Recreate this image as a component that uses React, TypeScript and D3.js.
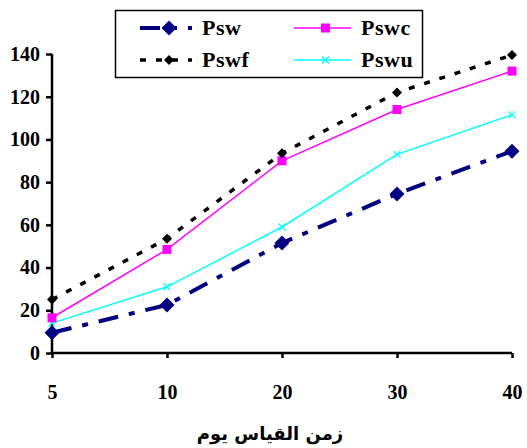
import { useRef, useEffect } from 'react'
import * as d3 from 'd3'

// measurement days (categorical, evenly spaced)
const days = ['5', '10', '20', '30', '40']
const psw = [9.5, 22.5, 51.5, 74.5, 94.5]
const pswc = [16.5, 48.5, 90, 114, 132]
const pswf = [25, 53.5, 93.5, 122, 139.5]
const pswu = [14, 31, 59, 93, 111.5]
const yTicks = [0, 20, 40, 60, 80, 100, 120, 140]
const xTitle = 'زمن القياس يوم'

type Marker = 'diamond' | 'smallDiamond' | 'square' | 'x'

interface Series {
  name: string
  values: number[]
  color: string
  width: number
  dash: string
  marker: Marker
}

const series: Series[] = [
  { name: 'Pswu', values: pswu, color: '#00FFFF', width: 1.5, dash: '', marker: 'x' },
  { name: 'Pswc', values: pswc, color: '#FF00FF', width: 1.5, dash: '', marker: 'square' },
  { name: 'Pswf', values: pswf, color: '#000000', width: 3.5, dash: '6,10', marker: 'smallDiamond' },
  { name: 'Psw', values: psw, color: '#000080', width: 4, dash: '20,11,6,11', marker: 'diamond' },
]

const legendOrder = ['Psw', 'Pswc', 'Pswf', 'Pswu']

const drawMarker = (
  g: d3.Selection<SVGGElement, unknown, null, undefined>,
  kind: Marker,
  x: number,
  y: number,
  color: string
) => {
  if (kind === 'diamond' || kind === 'smallDiamond') {
    const r = kind === 'diamond' ? 7.5 : 5
    g.append('path')
      .attr('d', `M${x},${y - r}L${x + r},${y}L${x},${y + r}L${x - r},${y}Z`)
      .attr('fill', color)
  } else if (kind === 'square') {
    g.append('rect')
      .attr('x', x - 4.5).attr('y', y - 4.5)
      .attr('width', 9).attr('height', 9)
      .attr('fill', color)
  } else {
    const r = 3.5
    g.append('path')
      .attr('d', `M${x - r},${y - r}L${x + r},${y + r}M${x - r},${y + r}L${x + r},${y - r}`)
      .attr('stroke', color)
      .attr('stroke-width', 1.3)
  }
}

const serif = "'Liberation Serif', 'Times New Roman', serif"

const App = () => {
  const ref = useRef<SVGSVGElement>(null)

  useEffect(() => {
    if (!ref.current) return
    const svg = d3.select(ref.current)
    svg.selectAll('*').remove()
    const width = 527
    const height = 448
    const left = 52
    const right = 512
    const top = 54
    const bottom = 353

    svg.attr('viewBox', `0 0 ${width} ${height}`)
    svg.append('rect').attr('width', width).attr('height', height).attr('fill', '#fff')

    const x = d3.scalePoint<string>().domain(days).range([left, right])
    const y = d3.scaleLinear().domain([0, 140]).range([bottom, top])

    // y axis
    const yAxis = svg.append('g')
      .attr('transform', `translate(${left},0)`)
      .call(d3.axisLeft(y).tickValues(yTicks).tickSize(6).tickPadding(6))
    yAxis.attr('font-family', null).attr('font-size', null)
    yAxis.select('.domain').attr('stroke', '#000').attr('stroke-width', 2.5)
      .attr('d', `M0,${top}V${bottom}`)
    yAxis.selectAll('.tick line').attr('stroke', '#000').attr('stroke-width', 2.5)
    yAxis.selectAll('.tick text')
      .style('font-family', serif).style('font-size', '20px').style('font-weight', 'bold')
      .attr('fill', '#000')

    // x axis
    const xAxis = svg.append('g')
      .attr('transform', `translate(0,${bottom})`)
      .call(d3.axisBottom(x).tickSize(5).tickPadding(27))
    xAxis.attr('font-family', null).attr('font-size', null)
    xAxis.select('.domain').attr('stroke', '#000').attr('stroke-width', 2.5)
      .attr('d', `M${left},0H${right}`)
    xAxis.selectAll('.tick line').attr('stroke', '#000').attr('stroke-width', 2.5)
    xAxis.selectAll('.tick text')
      .style('font-family', serif).style('font-size', '20px').style('font-weight', 'bold')
      .attr('fill', '#000')

    svg.append('text')
      .attr('x', 270).attr('y', 440)
      .attr('text-anchor', 'middle')
      .style('font-family', "'DejaVu Sans', sans-serif")
      .style('font-size', '18px').style('font-weight', 'bold')
      .attr('direction', 'rtl')
      .text(xTitle)

    // series
    const line = d3.line<number>()
      .x((_, i) => x(days[i]) as number)
      .y(d => y(d))
    series.forEach(s => {
      const g = svg.append('g')
      g.append('path')
        .attr('d', line(s.values))
        .attr('fill', 'none')
        .attr('stroke', s.color)
        .attr('stroke-width', s.width)
        .attr('stroke-dasharray', s.dash || null)
      s.values.forEach((v, i) => drawMarker(g, s.marker, x(days[i]) as number, y(v), s.color))
    })

    // legend
    const lg = svg.append('g')
    lg.append('rect')
      .attr('x', 115.5).attr('y', 10.5).attr('width', 307).attr('height', 67)
      .attr('fill', '#fff').attr('stroke', '#000').attr('stroke-width', 1.5)
    legendOrder.forEach((name, i) => {
      const s = series.find(d => d.name === name)!
      const col = i % 2
      const row = Math.floor(i / 2)
      const x0 = col === 0 ? 140 : 294
      const x1 = col === 0 ? 192 : 351
      const cy = row === 0 ? 28 : 60
      const g = lg.append('g')
      g.append('line')
        .attr('x1', x0).attr('x2', x1).attr('y1', cy).attr('y2', cy)
        .attr('stroke', s.color)
        .attr('stroke-width', s.width)
        .attr('stroke-dasharray', s.dash || null)
      drawMarker(g, s.marker, (x0 + x1) / 2 + 3, cy, s.color)
      g.append('text')
        .attr('x', x1 + 10).attr('y', cy + 7)
        .style('font-family', serif).style('font-size', '22px').style('font-weight', 'bold')
        .attr('letter-spacing', 0.5)
        .text(s.name)
    })
  }, [])

  return (
    <svg
      ref={ref}
      width={527}
      height={448}
      style={{ position: 'absolute', left: 0, top: 0, display: 'block' }}
    />
  )
}

export default App
